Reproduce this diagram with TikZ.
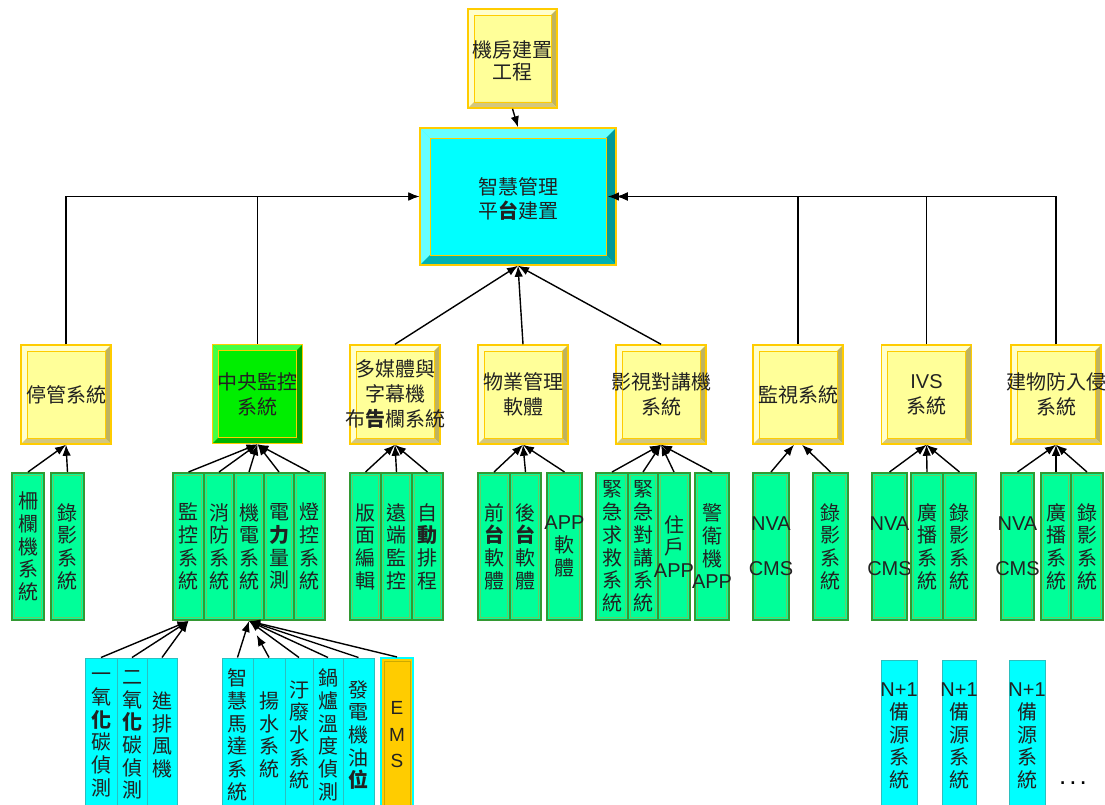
\documentclass[tikz,border=0pt]{standalone}
\usepackage{fontspec}
\setmainfont{Noto Sans CJK TC}
\newfontfamily\lat{Liberation Sans}
\usetikzlibrary{arrows.meta}
\definecolor{yfill}{HTML}{FFFF99}
\definecolor{ylight}{HTML}{FFFFCC}
\definecolor{yright}{HTML}{BFB35F}
\definecolor{ybot}{HTML}{D3C77F}
\definecolor{ybord}{HTML}{FFCC00}
\definecolor{gfill}{HTML}{00EE00}
\definecolor{glight}{HTML}{44FF44}
\definecolor{gright}{HTML}{00A000}
\definecolor{gbot}{HTML}{00B400}
\definecolor{cfill}{HTML}{00FFFF}
\definecolor{clight}{HTML}{66FFFF}
\definecolor{cright}{HTML}{009999}
\definecolor{cbot}{HTML}{00B2B2}
\definecolor{gthree}{HTML}{00FF99}
\definecolor{gthreeb}{HTML}{339933}
\definecolor{gthreein}{HTML}{66CC66}
\definecolor{cfour}{HTML}{00FFFF}
\definecolor{cfourb}{HTML}{2BBFBF}
\definecolor{emsfill}{HTML}{FFCC00}
\definecolor{emsin}{HTML}{CCAA00}
\definecolor{txt}{HTML}{222222}
\newcommand\bevdraw[4]{%
  \path (path picture bounding box.north west) coordinate (pNW)
        (path picture bounding box.north east) coordinate (pNE)
        (path picture bounding box.south west) coordinate (pSW)
        (path picture bounding box.south east) coordinate (pSE);
  \fill[#2] (pNW) -- (pNE) -- ([shift={(-#1,-#1)}]pNE) -- ([shift={(#1,-#1)}]pNW) -- cycle;
  \fill[#2] (pNW) -- ([shift={(#1,-#1)}]pNW) -- ([shift={(#1,#1)}]pSW) -- (pSW) -- cycle;
  \fill[#3] (pNE) -- (pSE) -- ([shift={(-#1,#1)}]pSE) -- ([shift={(-#1,-#1)}]pNE) -- cycle;
  \fill[#4] (pSW) -- (pSE) -- ([shift={(-#1,#1)}]pSE) -- ([shift={(#1,#1)}]pSW) -- cycle;
  \draw[ybord, line width=0.8pt] ([shift={(#1,-#1)}]pNW) rectangle ([shift={(-#1,#1)}]pSE);
}
\newcommand\gcol[4]{%
  \node[gthreebox, minimum width={#3-#2}] (#1) at ({(#2+#3)/2},546.5) {};
  \node[vt] (#1t) at (#1) {#4};}
\newcommand\ccol[4]{%
  \node[cfourbox, minimum width={#3-#2}] (#1) at ({(#2+#3)/2},735) {};
  \node[vt] (#1t) at (#1) {#4};}
\newcommand\ncol[4]{%
  \node[cfourbox, minimum width={#3-#2}, minimum height=152] (#1) at ({(#2+#3)/2},736) {};
  \node[vt] (#1t) at (#1) {#4};}
\tikzset{
  arr/.style={-{Latex[length=11pt,width=8.5pt]}, line width=1.4pt, black},
  lbl/.style={align=center, inner sep=0pt, font=\fontsize{20}{25}\selectfont, text=txt},
  vt/.style={align=center, inner sep=0pt, font=\fontsize{20}{22.7}\selectfont, text=txt},
  ybox/.style={minimum width=90, minimum height=99, inner sep=0pt, fill=yfill, draw=ybord, line width=1.5pt,
    path picture={\bevdraw{6pt}{ylight}{yright}{ybot}}},
  gbox/.style={minimum width=90, minimum height=99, inner sep=0pt, fill=gfill, draw=ybord, line width=1.5pt,
    path picture={\bevdraw{6pt}{glight}{gright}{gbot}}},
  cbox/.style={minimum width=196, minimum height=137, inner sep=0pt, fill=cfill, draw=ybord, line width=1.5pt,
    path picture={\bevdraw{10pt}{clight}{cright}{cbot}}},
  gthreebox/.style={minimum height=147, inner sep=0pt, fill=gthree, draw=gthreeb, line width=2pt,
    path picture={\draw[gthreein, line width=1pt] ([shift={(2.5pt,-2.5pt)}]path picture bounding box.north west) rectangle ([shift={(-2.5pt,2.5pt)}]path picture bounding box.south east);}},
  cfourbox/.style={minimum height=154, inner sep=0pt, fill=cfour, draw=cfourb, line width=1pt},
  emsbox/.style={minimum height=154, inner sep=0pt, fill=emsfill, draw=cfour, line width=2pt,
    path picture={\draw[emsin, line width=0.8pt] ([shift={(3pt,-3pt)}]path picture bounding box.north west) rectangle ([shift={(-3pt,3pt)}]path picture bounding box.south east);}},
}
\begin{document}
\begin{tikzpicture}[x=1pt,y=-1pt]
\useasboundingbox (0,0) rectangle (1105,805);
\clip (0,0) rectangle (1105,805);

% top
\node[ybox, minimum width=89] (top) at (512.5,58.5) {};
\node[lbl, font=\fontsize{20}{22}\selectfont] (topt) at (512.5,61) {機房建置\\工程};
\node[cbox] (main) at (518,196.5) {};
\node[lbl, font=\fontsize{20}{23.3}\selectfont] (maint) at (518,199) {智慧管理\\平\textbf{台}建置};

% level 2
\node[ybox] (ting) at (66,394.5) {};
\node[lbl] (tingt) at (ting) {停管系統};
\node[gbox] (zhong) at (257.5,394) {};
\node[lbl] (zhongt) at (zhong) {中央監控\\系統};
\node[ybox] (duo) at (395,394.5) {};
\node[lbl] (duot) at (duo) {多媒體與\\字幕機\\布\textbf{告}欄系統};
\node[ybox] (wu) at (523,394.5) {};
\node[lbl] (wut) at (wu) {物業管理\\軟體};
\node[ybox] (ying) at (661,394.5) {};
\node[lbl] (yingt) at (ying) {影視對講機\\系統};
\node[ybox] (jian) at (798,394.5) {};
\node[lbl] (jiant) at (jian) {監視系統};
\node[ybox] (ivs) at (926.5,394.5) {};
\node[lbl] (ivst) at (ivs) {{\lat IVS}\\系統};
\node[ybox] (fang) at (1056,394.5) {};
\node[lbl] (fangt) at (fang) {建物防入侵\\系統};

% level 3
\gcol{sa}{12}{44}{柵\\欄\\機\\系\\統}
\gcol{sb}{51}{84}{錄\\影\\系\\統}
\gcol{za}{173}{204}{監\\控\\系\\統}
\gcol{zb}{204}{234}{消\\防\\系\\統}
\gcol{zc}{234}{264}{機\\電\\系\\統}
\gcol{zd}{264}{294}{電\\\textbf{力}\\量\\測}
\gcol{ze}{294}{325}{燈\\控\\系\\統}
\gcol{da}{350}{381}{版\\面\\編\\輯}
\gcol{db}{381}{412}{遠\\端\\監\\控}
\gcol{dc}{412}{443}{自\\\textbf{動}\\排\\程}
\gcol{wa}{478}{510}{前\\\textbf{台}\\軟\\體}
\gcol{wb}{510}{541}{後\\\textbf{台}\\軟\\體}
\gcol{wc}{547}{582}{{\lat APP}\\軟\\體}
\gcol{ya}{596}{628}{緊\\急\\求\\救\\系\\統}
\gcol{yb}{628}{658}{緊\\急\\對\\講\\系\\統}
\gcol{yc}{658}{690}{住\\戶\\{\lat APP}}
\gcol{yd}{695}{729}{警\\衛\\機\\{\lat APP}}
\gcol{ja}{753}{789}{{\lat NVA}\\[22pt]{\lat CMS}}
\gcol{jb}{813}{848}{錄\\影\\系\\統}
\gcol{ia}{872}{907}{{\lat NVA}\\[22pt]{\lat CMS}}
\gcol{ib}{911}{943}{廣\\播\\系\\統}
\gcol{ic}{943}{976}{錄\\影\\系\\統}
\gcol{fa}{1001}{1034}{{\lat NVA}\\[22pt]{\lat CMS}}
\gcol{fb}{1041}{1071}{廣\\播\\系\\統}
\gcol{fc}{1071}{1103}{錄\\影\\系\\統}

% level 4
\ccol{ca}{85}{117}{一\\氧\\\textbf{化}\\碳\\偵\\測}
\ccol{cb}{117}{147}{二\\氧\\\textbf{化}\\碳\\偵\\測}
\ccol{cc}{147}{177}{進\\排\\風\\機}
\ccol{ea}{222}{253}{智\\慧\\馬\\達\\系\\統}
\ccol{eb}{253}{285}{揚\\水\\系\\統}
\ccol{ec}{285}{313}{汙\\廢\\水\\系\\統}
\ccol{ed}{313}{343}{鍋\\爐\\溫\\度\\偵\\測}
\ccol{ee}{343}{374}{發\\電\\機\\油\\\textbf{位}}
\node[emsbox, minimum width=32] (ems) at (397,735) {};
\node[vt, font=\lat\fontsize{19}{26.5}\selectfont] (emst) at (ems) {E\\M\\S};
\ncol{na}{881}{917}{{\lat N+1}\\備\\源\\系\\統}
\ncol{nb}{942}{976}{{\lat N+1}\\備\\源\\系\\統}
\ncol{nc}{1009}{1045}{{\lat N+1}\\備\\源\\系\\統}
\node[font=\lat\fontsize{26}{26}\selectfont, inner sep=0pt] (dots) at (1073,783) {.\kern3pt.\kern3pt.};

% connectors
\draw[arr] (top.south) -- (main.north);
\draw[arr] (ting.north) |- (main.west);
\draw[arr] (zhong.north) |- (main.west);
\draw[arr] (jian.north) |- (main.east);
\draw[arr] (ivs.north) |- (main.east);
\draw[arr, shorten >=-9pt] (fang.north) |- (main.east);
\draw[arr] (duo.north) -- (main.south);
\draw[arr] (wu.north) -- (main.south);
\draw[arr] (ying.north) -- (main.south);

\foreach \s in {sa,sb} \draw[arr] (\s.north) -- (ting.south);
\foreach \s in {za,zb,zc,zd,ze} \draw[arr] (\s.north) -- (zhong.south);
\foreach \s in {da,db,dc} \draw[arr] (\s.north) -- (duo.south);
\foreach \s in {wa,wb,wc} \draw[arr] (\s.north) -- (wu.south);
\foreach \s in {ya,yb,yc,yd} \draw[arr] (\s.north) -- (ying.south);
\draw[arr] (ja.north) -- ([xshift=-4pt]jian.south);
\draw[arr] (jb.north) -- ([xshift=4pt]jian.south);
\foreach \s in {ia,ib,ic} \draw[arr] (\s.north) -- (ivs.south);
\foreach \s in {fa,fb,fc} \draw[arr] (\s.north) -- (fang.south);

\foreach \s in {ca,cb,cc} \draw[arr] (\s.north) -- (za.south);
\foreach \s in {ea,ec,ed,ee,ems} \draw[arr] (\s.north) -- (zc.south);
\draw[arr, shorten >=16pt] (eb.north) -- (zc.south);
\end{tikzpicture}
\end{document}
